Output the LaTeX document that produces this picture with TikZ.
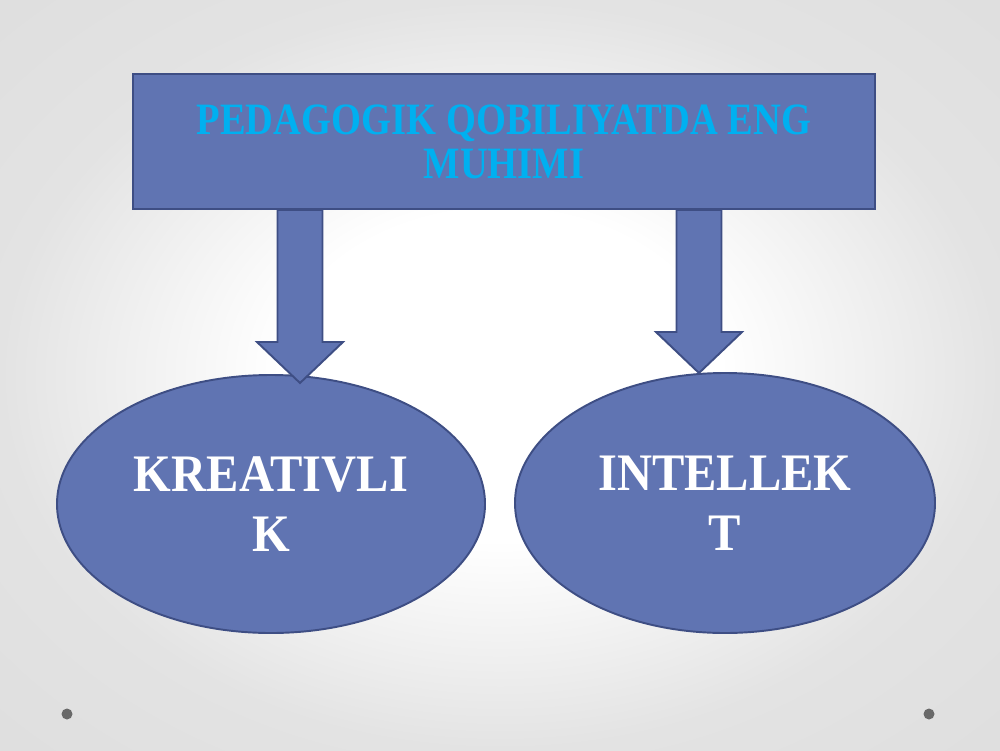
\documentclass[tikz,border=0pt]{standalone}
\usepackage{fontspec}
\usetikzlibrary{shapes.geometric,calc}
\setmainfont{Liberation Serif}
\newfontfamily\headfont[FakeStretch=0.86]{Liberation Serif}
\newfontfamily\ovalfont[FakeStretch=0.92]{Liberation Serif}
\definecolor{boxblue}{RGB}{96,116,178}
\definecolor{boxedge}{RGB}{62,78,132}
\definecolor{headcyan}{RGB}{0,176,240}
\definecolor{dotgray}{RGB}{105,105,105}
\pgfdeclareradialshading{slidebg}{\pgfpoint{0bp}{0bp}}{%
  color(0bp)=(white); color(11bp)=(white); color(25bp)=(black!11); color(50bp)=(black!15)}

\begin{document}
\begin{tikzpicture}[x=0.2mm,y=-0.2mm]
\tikzstyle{box}=[draw=boxedge, fill=boxblue, line width=1.1pt]
\tikzstyle{title}=[box, rectangle, minimum width=148.4mm, minimum height=27mm, inner sep=0pt, align=center, text=headcyan, font=\headfont\bfseries\fontsize{25.5}{25}\selectfont]
\tikzstyle{oval}=[box, ellipse, inner sep=0pt, align=center, text=white, font=\ovalfont\bfseries\fontsize{30}{34}\selectfont]
\tikzstyle{blockarrow}=[box, line join=miter]

\useasboundingbox (0,0) rectangle (1000,750);
\shade[shading=slidebg] (0,0) rectangle (1000,750);
\fill[dotgray] (67,714) circle[radius=1.1mm];
\fill[dotgray] (929,714) circle[radius=1.1mm];

\node[title] (T) at (504,141.5) {PEDAGOGIK QOBILIYATDA ENG\\MUHIMI};
\node[oval, minimum width=85.6mm, minimum height=51.6mm] (K) at (271,504) {KREATIVLI\\K};
\node[oval, minimum width=84mm, minimum height=52mm] (I) at (725,503) {INTELLEK\\T};

\coordinate (kt) at (300,383);
\coordinate (it) at (699,373);

\foreach \tip in {kt,it}
  \draw[blockarrow] (\tip) -- ++(-43,-41) -- ++(20.5,0)
    -- ($(\tip |- T.south)+(-22.5,0)$) -- ($(\tip |- T.south)+(22.5,0)$)
    -- ($(\tip)+(22.5,-41)$) -- ++(20.5,0) -- cycle;
\end{tikzpicture}
\end{document}
